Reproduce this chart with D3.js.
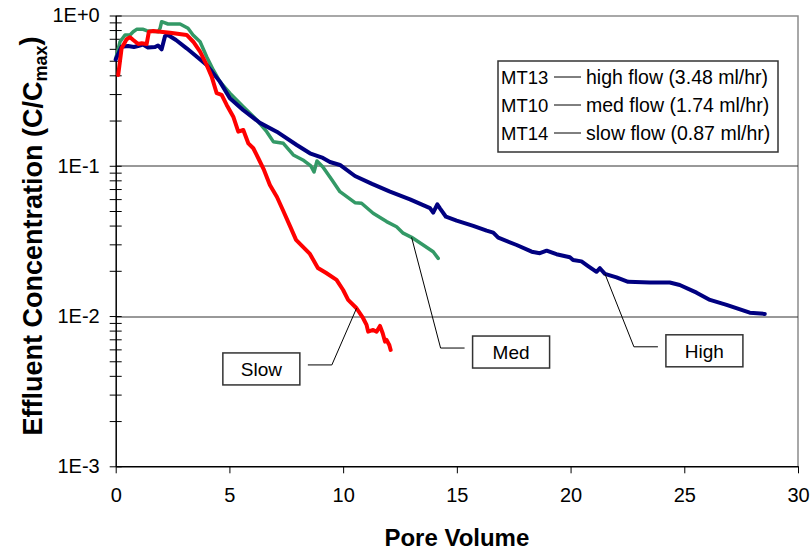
<!DOCTYPE html>
<html>
<head>
<meta charset="utf-8">
<script src="https://cdn.jsdelivr.net/npm/d3@7"></script>
<style>
  body { margin: 0; background: #fff; }
  text { font-family: "Liberation Sans", Arial, sans-serif; fill: #000; }
</style>
</head>
<body>
<div id="chart"></div>
<script>
const svgWidth = 812
const svgHeight = 550

let margin = { top: 15.5, right: 14, bottom: 83.7, left: 115.7 }
let width = svgWidth - margin.left - margin.right
let height = svgHeight - margin.top - margin.bottom

// x ticks and y decade labels
const xTicks = [0, 5, 10, 15, 20, 25, 30]
const yDecades = [0.001, 0.01, 0.1, 1]
const yTickLabels = ["1E-3", "1E-2", "1E-1", "1E+0"]

// MT13 high flow (3.48 ml/hr)
const highPV = [0, 0.26, 0.54, 0.80, 0.98, 1.20, 1.42, 1.73, 1.86, 2.02, 2.17, 2.30, 2.65, 3.12, 3.53,
  4.00, 4.58, 5.02, 5.60, 6.34, 7.08, 7.96, 8.54, 9.11, 9.42, 9.86, 10.52, 11.27, 12.06, 12.94,
  13.82, 13.96, 14.14, 14.25, 14.52, 14.99, 15.72, 16.31, 16.60, 16.82, 17.63, 18.29, 18.65, 18.95, 19.38,
  19.97, 20.11, 20.48, 20.77, 21.14, 21.29, 21.51, 22.02, 22.53, 23.49, 24.36, 24.80, 25.54, 26.13, 26.86,
  27.88, 28.54]
const highC = [0.51, 0.62, 0.627, 0.617, 0.627, 0.641, 0.612, 0.617, 0.632, 0.596, 0.730, 0.742, 0.687, 0.605, 0.538,
  0.469, 0.363, 0.281, 0.235, 0.193, 0.1686, 0.1375, 0.1211, 0.1127, 0.106, 0.1012, 0.0855, 0.0757, 0.0672, 0.0598,
  0.0522, 0.0488, 0.0554, 0.0522, 0.0458, 0.0431, 0.0398, 0.0370, 0.0359, 0.0332, 0.0297, 0.0268, 0.0262, 0.0272, 0.0258,
  0.0246, 0.0236, 0.0231, 0.0215, 0.0197, 0.0208, 0.0191, 0.0181, 0.0169, 0.0167, 0.0167, 0.0161, 0.0143, 0.0128, 0.01186,
  0.01053, 0.01033]

// MT10 med flow (1.74 ml/hr)
const medPV = [0.01, 0.19, 0.41, 0.63, 0.77, 0.92, 1.21, 1.36, 1.87, 1.95, 2.02, 2.30, 2.83, 3.18, 3.40,
  3.71, 4.00, 4.29, 4.58, 5.02, 5.61, 6.20, 6.64, 6.93, 7.37, 7.81, 8.23, 8.58, 8.72, 8.85,
  9.11, 9.51, 9.86, 10.52, 10.81, 11.32, 11.91, 12.35, 12.64, 13.01, 13.52, 13.96, 14.18]
const medC = [0.522, 0.669, 0.742, 0.742, 0.780, 0.809, 0.809, 0.792, 0.780, 0.822, 0.909, 0.878, 0.878, 0.822, 0.742,
  0.669, 0.532, 0.434, 0.363, 0.304, 0.247, 0.2017, 0.1686, 0.1447, 0.1411, 0.118, 0.1093, 0.0997, 0.0909, 0.1076,
  0.0982, 0.0804, 0.0672, 0.0568, 0.0563, 0.0483, 0.0425, 0.0393, 0.0356, 0.0334, 0.0297, 0.0268, 0.0242]

// MT14 slow flow (0.87 ml/hr)
const slowPV = [0.11, 0.26, 0.48, 0.63, 0.77, 0.99, 1.14, 1.36, 1.46, 1.65, 2.39, 3.12, 3.41, 3.71, 4.00,
  4.22, 4.44, 4.66, 4.88, 5.17, 5.39, 5.61, 5.83, 6.05, 6.27, 6.52, 6.78, 7.09, 7.35, 7.66,
  7.93, 8.19, 8.54, 8.89, 9.24, 9.71, 10.00, 10.22, 10.59, 10.88, 11.03, 11.10, 11.32, 11.47, 11.62,
  11.74, 11.84, 11.91, 12.03, 12.09]
const slowC = [0.402, 0.605, 0.694, 0.716, 0.687, 0.646, 0.653, 0.646, 0.780, 0.789, 0.768, 0.742, 0.669, 0.574, 0.469,
  0.3915, 0.304, 0.296, 0.254, 0.212, 0.1686, 0.173, 0.1411, 0.1308, 0.1122, 0.0938, 0.0745, 0.062, 0.0508, 0.0398,
  0.0321, 0.0293, 0.0259, 0.0209, 0.0194, 0.0174, 0.0149, 0.0128, 0.01127, 0.00967, 0.00873, 0.00787, 0.00808, 0.00787, 0.00859,
  0.00768, 0.00676, 0.00693, 0.00642, 0.00595]

const legendIds = ["MT13", "MT10", "MT14"]
const legendText = ["high flow (3.48 ml/hr)", "med flow (1.74 ml/hr)", "slow flow (0.87 ml/hr)"]

// callout labels and the point on each curve they point at
const calloutLabels = ["Slow", "Med", "High"]
const calloutPV = [10.59, 13.01, 21.51]
const calloutC = [0.01127, 0.0334, 0.0191]

let series = [
  { pv: medPV, c: medC, color: "#339966", w: 3.5 },
  { pv: highPV, c: highC, color: "#000080", w: 4 },
  { pv: slowPV, c: slowC, color: "#ff0000", w: 4 }
]

let svg = d3
  .select("#chart")
  .append("svg")
  .attr("width", svgWidth)
  .attr("height", svgHeight)

let chartGroup = svg
  .append("g")
  .attr("transform", `translate(${margin.left}, ${margin.top})`)

let xScale = d3.scaleLinear().domain([0, 30]).range([0, width])
let yScale = d3.scaleLog().domain([0.001, 1]).range([height, 0])

// frame: grey top and right edges
chartGroup.append("path")
  .attr("d", `M0,0.5H${width}V${height}`)
  .attr("fill", "none")
  .attr("stroke", "#8c8c8c")
  .attr("stroke-width", 1.5)

// gridlines at the inner decades
chartGroup.selectAll(".grid")
  .data(yDecades.slice(1, 3))
  .enter()
  .append("line")
  .attr("x1", 0)
  .attr("x2", width)
  .attr("y1", d => Math.round(yScale(d)) + 0.5)
  .attr("y2", d => Math.round(yScale(d)) + 0.5)
  .attr("stroke", "#333")
  .attr("stroke-width", 1)

// minor + major y ticks
let yTickValues = []
yDecades.forEach((d, i) => {
  if (i < yDecades.length - 1) {
    for (let k = 1; k < 10; k++) yTickValues.push(d * k)
  } else {
    yTickValues.push(d)
  }
})

let leftAxis = d3.axisLeft(yScale)
  .tickValues(yTickValues)
  .tickSize(6)
  .tickSizeOuter(0)
  .tickPadding(10)
  .tickFormat(d => {
    let i = yDecades.findIndex(v => Math.abs(v - d) < 1e-9)
    return i >= 0 ? yTickLabels[i] : ""
  })

let yAxis = chartGroup.append("g").call(leftAxis)
yAxis.selectAll(".tick line").attr("x1", 6).attr("stroke", "#000")
yAxis.select(".domain").attr("stroke", "#000").attr("stroke-width", 1.5)
yAxis.selectAll("text").attr("font-size", "20px").attr("font-family", "Liberation Sans, Arial, sans-serif")

let bottomAxis = d3.axisBottom(xScale)
  .tickValues(xTicks)
  .tickSize(7)
  .tickSizeOuter(0)
  .tickFormat(d3.format("d"))

let xAxis = chartGroup.append("g")
  .attr("transform", `translate(0, ${height})`)
  .call(bottomAxis)
xAxis.selectAll(".tick line").attr("stroke", "#000")
xAxis.select(".domain").attr("stroke", "#000").attr("stroke-width", 1.5)
xAxis.selectAll("text")
  .attr("font-size", "20px")
  .attr("font-family", "Liberation Sans, Arial, sans-serif")
  .attr("y", 36)
  .attr("dy", 0)

// curves
let line = d3.line()
  .x(d => xScale(d[0]))
  .y(d => yScale(d[1]))

series.forEach(s => {
  chartGroup.append("path")
    .datum(s.pv.map((v, i) => [v, s.c[i]]))
    .attr("d", line)
    .attr("fill", "none")
    .attr("stroke", s.color)
    .attr("stroke-width", s.w)
    .attr("stroke-linejoin", "round")
    .attr("stroke-linecap", "round")
})

// callouts
let elbowDx = [-24.7, 29, 29]
let elbowDy = [56.7, 110.7, 73]
calloutLabels.forEach((label, i) => {
  let ax = xScale(calloutPV[i])
  let ay = yScale(calloutC[i])
  let ex = ax + elbowDx[i]
  let ey = ay + elbowDy[i]
  let dir = elbowDx[i] < 0 ? -1 : 1
  let hx = ex + dir * 24
  chartGroup.append("path")
    .attr("d", `M${ax},${ay}L${ex},${ey}H${hx}`)
    .attr("fill", "none")
    .attr("stroke", "#000")
    .attr("stroke-width", 1)
  let bx = dir < 0 ? hx - 8 - 77 : hx + 8
  chartGroup.append("rect")
    .attr("x", bx)
    .attr("y", ey - 12)
    .attr("width", 77)
    .attr("height", 32)
    .attr("fill", "#fff")
    .attr("stroke", "#333")
    .attr("stroke-width", 1.5)
  chartGroup.append("text")
    .attr("x", bx + 38.5)
    .attr("y", ey + 11)
    .attr("text-anchor", "middle")
    .attr("font-size", "19px")
    .text(label)
})

// legend box
let legend = svg.append("g").attr("transform", "translate(498, 61)")
legend.append("rect")
  .attr("width", 280)
  .attr("height", 91)
  .attr("fill", "#fff")
  .attr("stroke", "#333")
  .attr("stroke-width", 1.5)
legendIds.forEach((id, i) => {
  let cy = 16 + i * 28
  legend.append("text").attr("x", 3).attr("y", cy + 6.5).attr("font-size", "18.5px").text(id)
  legend.append("line")
    .attr("x1", 56).attr("x2", 83)
    .attr("y1", cy).attr("y2", cy)
    .attr("stroke", "#000").attr("stroke-width", 1)
  legend.append("text").attr("x", 88).attr("y", cy + 6.5).attr("font-size", "19.5px").text(legendText[i])
})

// axis titles
svg.append("text")
  .attr("x", margin.left + width / 2)
  .attr("y", 546)
  .attr("text-anchor", "middle")
  .attr("font-size", "24px")
  .attr("font-weight", "bold")
  .text("Pore Volume")

let yTitle = svg.append("text")
  .attr("transform", "translate(42, 236) rotate(-90)")
  .attr("text-anchor", "middle")
  .attr("font-size", "27px")
  .attr("font-weight", "bold")
yTitle.append("tspan").text("Effluent Concentration (C/C")
yTitle.append("tspan").attr("font-size", "18px").attr("dy", "0.3em").text("max")
yTitle.append("tspan").attr("dy", "-0.3em").text(")")
</script>
</body>
</html>
